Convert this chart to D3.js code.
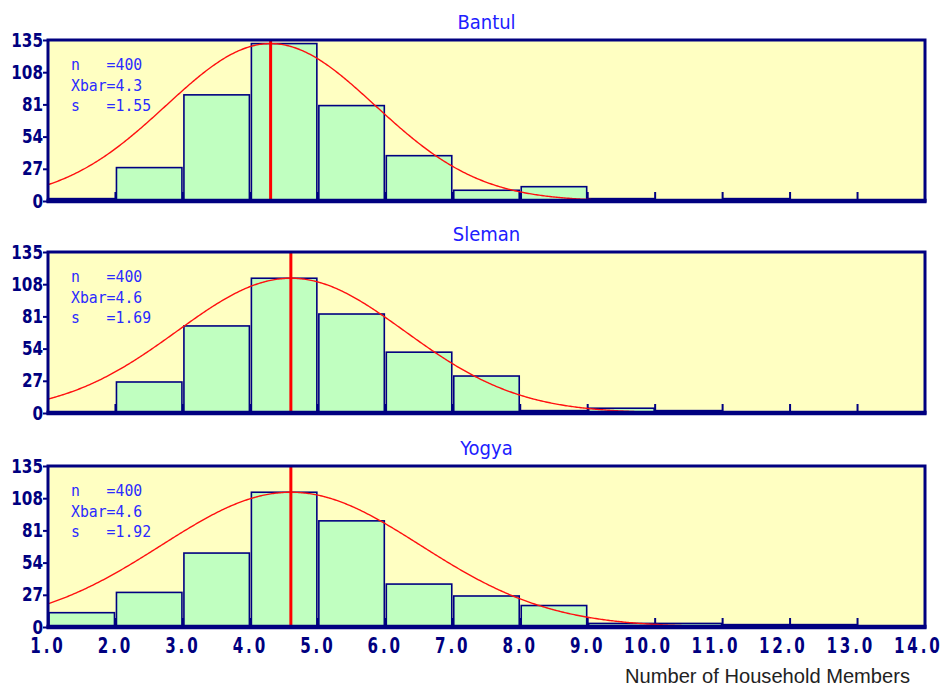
<!DOCTYPE html>
<html>
<head>
<meta charset="utf-8">
<script src="https://cdn.jsdelivr.net/npm/d3@7"></script>
<style>
  body { margin: 0; background: #fff; }
  svg { display: block; }
</style>
</head>
<body>
<svg id="chart" width="948" height="687"></svg>
<script>
// Histogram data, one array per region (bins of width 1 starting at 1.0)
var binStarts = [1, 2, 3, 4, 5, 6, 7, 8, 9, 10, 11, 12, 13];
var bantulCounts = [2, 28, 89, 132, 80, 38, 9, 12, 2, 0, 2, 0, 0];
var slemanCounts = [0, 26, 73, 113, 83, 51, 31, 2, 4, 2, 1, 0, 0];
var yogyaCounts = [12, 29, 62, 113, 89, 36, 26, 18, 3, 3, 2, 2, 0];

var regions = ['Bantul', 'Sleman', 'Yogya'];
var nValues = [400, 400, 400];
var means = [4.3, 4.6, 4.6];
var sds = [1.55, 1.69, 1.92];
var sdLabels = ['1.55', '1.69', '1.92'];

var xTicks = [1, 2, 3, 4, 5, 6, 7, 8, 9, 10, 11, 12, 13, 14];
var yTicks = [0, 27, 54, 81, 108, 135];
var xTitle = 'Number of Household Members';

var counts = [bantulCounts, slemanCounts, yogyaCounts];

// layout
var left = 48, right = 925, panelH = 161;
var panelTops = [40, 252, 466];
var navy = '#000080';
var tickFont = '"DejaVu Sans", sans-serif';

var svg = d3.select('#chart');
var x = d3.scaleLinear().domain([1, 14]).range([left, right]);

regions.forEach(function(name, p) {
  var top = panelTops[p];
  var y = d3.scaleLinear().domain([0, 135]).range([top + panelH, top]);
  var g = svg.append('g');

  // title
  g.append('text')
    .attr('x', (left + right) / 2)
    .attr('y', top - 11)
    .attr('text-anchor', 'middle')
    .style('font-family', '"DejaVu Sans Condensed", "DejaVu Sans", sans-serif')
    .style('font-stretch', 'condensed')
    .style('font-size', '20px')
    .style('fill', '#2020ff')
    .text(name);

  // plot background
  g.append('rect')
    .attr('x', left).attr('y', top)
    .attr('width', right - left).attr('height', panelH)
    .style('fill', '#ffffc2');

  // small x ticks pointing up from the bottom
  g.selectAll('.xt').data(xTicks).enter().append('line')
    .attr('x1', function(d) { return x(d); })
    .attr('x2', function(d) { return x(d); })
    .attr('y1', top + panelH)
    .attr('y2', top + panelH - 9)
    .style('stroke', navy).style('stroke-width', 2);

  // bars
  g.selectAll('.bar').data(counts[p]).enter().append('rect')
    .attr('x', function(d, i) { return x(binStarts[i]) + 1; })
    .attr('width', function(d, i) { return x(binStarts[i] + 1) - x(binStarts[i]) - 2; })
    .attr('y', function(d) { return y(d); })
    .attr('height', function(d) { return y(0) - y(d); })
    .style('fill', '#c0ffc0')
    .style('stroke', navy)
    .style('stroke-width', 1.6);

  // fitted normal curve, scaled to the tallest bar
  var peak = d3.max(counts[p]);
  var m = means[p], s = sds[p];
  var curvePts = d3.range(1, m + 3.2 * s, 0.02).map(function(v) {
    return [v, peak * Math.exp(-(v - m) * (v - m) / (2 * s * s))];
  });
  g.append('path')
    .datum(curvePts)
    .attr('d', d3.line().x(function(d) { return x(d[0]); }).y(function(d) { return y(d[1]); }))
    .style('fill', 'none')
    .style('stroke', '#ff1010')
    .style('stroke-width', 1.4);

  // mean line
  g.append('line')
    .attr('x1', x(m)).attr('x2', x(m))
    .attr('y1', top).attr('y2', top + panelH)
    .style('stroke', '#ff0000').style('stroke-width', 3);

  // frame
  g.append('rect')
    .attr('x', left).attr('y', top)
    .attr('width', right - left).attr('height', panelH)
    .style('fill', 'none')
    .style('stroke', navy).style('stroke-width', 3);
  g.append('line')
    .attr('x1', left - 1.5).attr('x2', right + 1.5)
    .attr('y1', top + panelH).attr('y2', top + panelH)
    .style('stroke', navy).style('stroke-width', 4.5);

  // y axis (labels squeezed sideways to get the narrow look)
  var yAxis = g.append('g')
    .attr('transform', 'translate(' + (left - 1) + ',0)')
    .call(d3.axisLeft(y).tickValues(yTicks).tickSize(4).tickPadding(1));
  yAxis.select('.domain').remove();
  yAxis.selectAll('line').style('stroke', navy).style('stroke-width', 2);
  yAxis.selectAll('text')
    .attr('transform', 'scale(0.8,1)')
    .style('font-family', tickFont)
    .style('font-weight', 'bold')
    .style('font-size', '19px')
    .style('fill', navy);

  // stats box text
  var stats = ['n   =' + nValues[p], 'Xbar=' + m.toFixed(1), 's   =' + sdLabels[p]];
  g.selectAll('.stat').data(stats).enter().append('text')
    .attr('x', 71)
    .attr('y', function(d, i) { return top + 30 + i * 20.5; })
    .attr('xml:space', 'preserve')
    .attr('textLength', function(d) { return d.length * 8.9; })
    .attr('lengthAdjust', 'spacingAndGlyphs')
    .style('white-space', 'pre')
    .style('font-family', '"DejaVu Sans Mono", monospace')
    .style('font-size', '16px')
    .style('fill', '#2a2aff')
    .text(function(d) { return d; });
});

// x tick labels on the bottom panel, decimal point sitting on the tick
var bottom = panelTops[2] + panelH;
var xLab = svg.append('g').selectAll('g').data(xTicks).enter().append('g')
  .attr('transform', function(d) { return 'translate(' + x(d) + ',' + (bottom + 26) + ') scale(0.72,1)'; });
xLab.append('text')
  .style('font-family', tickFont)
  .style('font-weight', 'bold')
  .style('font-size', '21px')
  .style('letter-spacing', '4px')
  .style('fill', navy)
  .text(function(d) { return d.toFixed(1); })
  .each(function() {
    var k = this.textContent.indexOf('.');
    var pre = this.getSubStringLength(0, k);
    var dot = this.getSubStringLength(k, 1);
    d3.select(this).attr('x', -pre - dot / 2);
  });

// x axis title
svg.append('text')
  .attr('x', 910)
  .attr('y', 683)
  .attr('text-anchor', 'end')
  .attr('textLength', 285)
  .attr('lengthAdjust', 'spacingAndGlyphs')
  .style('font-family', '"Liberation Sans Narrow", "Liberation Sans", Arial, sans-serif')
  .style('font-size', '21px')
  .style('fill', '#222')
  .text(xTitle);
</script>
</body>
</html>
